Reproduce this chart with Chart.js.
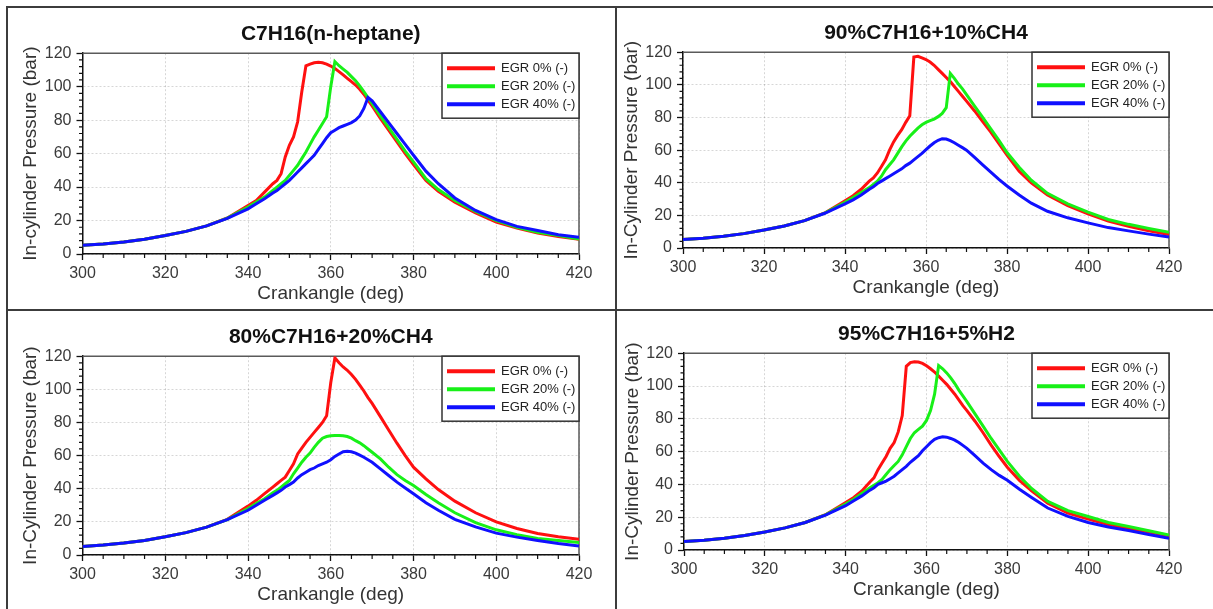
<!DOCTYPE html>
<html>
<head>
<meta charset="utf-8">
<title>In-cylinder pressure vs crank angle</title>
<script src="https://cdn.jsdelivr.net/npm/chart.js@4.4.1/dist/chart.umd.min.js"></script>
<style>
  body { margin: 0; background: #fff; }
  #page { position: relative; width: 1213px; height: 609px; overflow: hidden; background: #fff; }
  .rule { position: absolute; background: #3c3c3c; }
  canvas { position: absolute; }
</style>
</head>
<body>
<div id="page">
  <div class="rule" style="left:6px;top:6px;width:1207px;height:2px"></div>
  <div class="rule" style="left:6px;top:309px;width:1207px;height:2px"></div>
  <div class="rule" style="left:6px;top:6px;width:2px;height:603px"></div>
  <div class="rule" style="left:615px;top:6px;width:2px;height:603px"></div>
  <canvas id="p1" width="607" height="301" style="left:8px;top:8px"></canvas>
  <canvas id="p2" width="596" height="301" style="left:617px;top:8px"></canvas>
  <canvas id="p3" width="607" height="298" style="left:8px;top:311px"></canvas>
  <canvas id="p4" width="596" height="298" style="left:617px;top:311px"></canvas>
</div>
<script>
// crank angle (deg), shared by every curve
const crankAngle = [300, 305, 310, 315, 320, 325, 330, 335,
  340, 342, 344, 346, 347, 348, 349, 350, 351, 352, 353, 354, 355, 356, 357, 358, 359,
  360, 361, 362, 363, 364, 365, 366, 367, 368, 369, 370, 372, 374, 376, 378, 380,
  383, 386, 390, 395, 400, 405, 410, 415, 420];

const seriesLabels = ['EGR 0% (-)', 'EGR 20% (-)', 'EGR 40% (-)'];
const seriesColors = ['#ff1010', '#18f018', '#1010ff'];
const panelTitles = ['C7H16(n-heptane)', '90%C7H16+10%CH4', '80%C7H16+20%CH4', '95%C7H16+5%H2'];
const yTitles = ['In-cylinder Pressure (bar)', 'In-Cylinder Pressure (bar)', 'In-Cylinder Pressure (bar)', 'In-Cylinder Pressure (bar)'];
const xTitle = 'Crankangle (deg)';

// pressure (bar) - C7H16 (n-heptane)
const heptaneEgr0 = [5.2, 6.0, 7.2, 8.8, 11.0, 13.5, 16.8, 21.5,
  29, 32, 37, 42, 44, 48, 58, 65, 70, 79, 97, 112.5, 113.5, 114.3, 114.6, 114.3, 113.5,
  112.3, 110.8, 109, 107, 105, 103, 101, 98.5, 95.5, 92, 88.5, 81, 74, 67, 60, 53.5,
  44, 37.5, 31, 24.5, 19, 15.5, 12.5, 10.5, 8.8];
const heptaneEgr20 = [5.2, 6.0, 7.2, 8.8, 11.0, 13.5, 16.8, 21.4,
  28, 31, 34, 38, 40, 42, 44, 47, 50, 53, 57, 61, 65.5, 70, 74, 78, 82,
  100, 115, 112.5, 110.5, 108.5, 106, 103.5, 100.5, 97, 93.5, 90, 82.5, 75.5, 68.5, 61.5, 55,
  45, 38.5, 32, 25.5, 20, 16, 13, 11, 9];
const heptaneEgr40 = [5.2, 6.0, 7.2, 8.8, 11.0, 13.5, 16.8, 21.3,
  27, 30, 33, 36.5, 38, 40, 42, 44, 46.5, 49, 51.5, 54, 56.5, 59, 62.5, 66, 69.5,
  72.5, 74, 75.5, 76.5, 77.5, 78.5, 80, 82.5, 87, 93.5, 91.5, 85, 78.5, 72, 65.5, 59,
  49.5, 42, 33.5, 26, 20.5, 16.5, 14, 11.5, 10];

// pressure (bar) - 90%C7H16+10%CH4
const ch4Ten0 = [5.2, 6.0, 7.2, 8.8, 11.0, 13.5, 16.8, 21.5,
  29, 32, 36, 41, 43, 46, 50, 54, 60, 65, 69, 72.5, 77, 81, 117, 117.5, 116.5,
  115.5, 114, 112, 109.5, 107, 104.5, 102, 99, 96, 93, 90, 84, 77.5, 71, 64, 57,
  47, 40, 32.5, 26, 21, 16.5, 13.3, 10.5, 8.3];
const ch4Ten20 = [5.2, 6.0, 7.2, 8.8, 11.0, 13.5, 16.8, 21.4,
  28, 31, 34, 37, 39, 41, 44, 48, 51, 54, 58, 62, 65.5, 68.5, 71, 73.5, 75.5,
  77, 78, 79, 80.5, 82.5, 86, 107, 104, 100.5, 97.5, 94, 87, 80, 73, 66, 58.5,
  49.5, 41.5, 33.5, 27, 22, 17.5, 14.5, 12, 9.7];
const ch4Ten40 = [5.2, 6.0, 7.2, 8.8, 11.0, 13.5, 16.8, 21.3,
  27, 29.5, 32.5, 36, 37.5, 39.5, 41, 42.5, 44, 45.5, 47, 48.5, 50.5, 52, 54, 56, 58,
  60.3, 62.5, 64.5, 66, 67, 66.8, 65.8, 64.5, 63, 61.5, 60, 55.5, 51, 46.5, 42, 38,
  32.5, 27.5, 22.5, 18.5, 15.4, 12.5, 10.5, 8.5, 6.8];

// pressure (bar) - 80%C7H16+20%CH4
const ch4Twenty0 = [5.2, 6.0, 7.2, 8.8, 11.0, 13.5, 16.8, 21.5,
  29.5, 33, 37, 41, 43, 45, 47, 51, 55, 61, 64.5, 68, 71, 74, 77, 80, 84,
  104, 119, 116, 113.5, 111.5, 109, 106, 102.5, 99, 95, 91.5, 83.5, 75.5, 67.5, 60, 53,
  46, 39.5, 32.5, 25.5, 20, 16, 13, 11, 9.5];
const ch4Twenty20 = [5.2, 6.0, 7.2, 8.8, 11.0, 13.5, 16.8, 21.4,
  28, 31, 34, 37.5, 39, 41, 43, 45, 49, 52.5, 56, 59, 61.5, 65, 68, 70.5, 71.5,
  72, 72.2, 72.2, 72, 71.5, 70.5, 69, 67.7, 66, 64, 62, 58, 53, 48.5, 45, 42,
  36.5, 31.5, 25.5, 19.5, 15.2, 12.3, 10, 8.7, 7.5];
const ch4Twenty40 = [5.2, 6.0, 7.2, 8.8, 11.0, 13.5, 16.8, 21.3,
  27, 30, 33, 36, 37.5, 39, 41, 42.5, 44, 46.5, 48.5, 50, 51.5, 52.5, 54, 55, 56,
  57.5, 59.5, 61, 62.3, 62.6, 62.3, 61.5, 60.3, 59, 57.5, 56, 52, 48, 44, 40.5, 37,
  31.5, 27, 21.5, 17, 13.2, 10.8, 8.8, 7, 5.5];

// pressure (bar) - 95%C7H16+5%H2
const h2Five0 = [5.2, 6.0, 7.2, 8.8, 11.0, 13.5, 16.8, 21.5,
  29, 32, 36, 41.5, 44, 49, 53, 57, 62, 65.5, 72, 82, 112, 114.3, 114.8, 114.6, 113.8,
  112.3, 110.5, 108.5, 106, 103.5, 101, 98, 95, 91.5, 88, 85, 78.5, 71.5, 64, 57, 50.5,
  42.5, 36, 28.5, 22.5, 18.8, 15.5, 13.3, 11, 8.6];
const h2Five20 = [5.2, 6.0, 7.2, 8.8, 11.0, 13.5, 16.8, 21.4,
  28, 31, 34.5, 38, 39.5, 41, 43, 46, 49, 51.5, 54, 58, 63, 68, 71.5, 73.5, 75.5,
  79, 85, 95, 112.5, 110.5, 108, 105, 101.5, 97.5, 94, 90.5, 83, 75.5, 68, 61, 54,
  45, 37.5, 29.6, 24, 20.4, 16.8, 14.3, 11.7, 9.2];
const h2Five40 = [5.2, 6.0, 7.2, 8.8, 11.0, 13.5, 16.8, 21.3,
  27, 30, 33, 36.5, 38, 40, 41, 42, 43.5, 45, 47, 49, 51, 53.5, 55.5, 57.5, 60.5,
  63, 65.5, 67.5, 68.5, 69, 68.8, 68, 67, 65.5, 63.8, 62, 57.5, 53, 49, 45.5, 42.5,
  37, 32, 25.6, 20.5, 16.8, 14, 11.9, 9.5, 7.2];

const panelSeries = [
  [heptaneEgr0, heptaneEgr20, heptaneEgr40],
  [ch4Ten0, ch4Ten20, ch4Ten40],
  [ch4Twenty0, ch4Twenty20, ch4Twenty40],
  [h2Five0, h2Five20, h2Five40]
];

// room around each plot so the four boxes line up with the original figure
const panelPadding = [
  { left: 8.5, right: 36, top: 14, bottom: 3 },
  { left: 0, right: 44, top: 13, bottom: 9 },
  { left: 8.5, right: 36, top: 14, bottom: 2 },
  { left: 1, right: 44, top: 11, bottom: 7 }
];

const fontFamily = "'Liberation Sans', Arial, sans-serif";

// small ticks between the labelled ones
const minorTicks = {
  id: 'minorTicks',
  afterDraw(chart) {
    const { ctx, scales: { x, y } } = chart;
    ctx.save();
    ctx.strokeStyle = '#111';
    ctx.lineWidth = 1.2;
    ctx.beginPath();
    for (let v = x.min; v <= x.max; v += 5) {
      if (v % 20 === 0) continue;
      const px = x.getPixelForValue(v);
      ctx.moveTo(px, x.top);
      ctx.lineTo(px, x.top + 4);
    }
    for (let v = y.min; v <= y.max; v += 4) {
      if (v % 20 === 0) continue;
      const py = y.getPixelForValue(v);
      ctx.moveTo(y.right, py);
      ctx.lineTo(y.right - 3.5, py);
    }
    ctx.stroke();
    ctx.restore();
  }
};

// grey frame on the top and right of the plot
const plotFrame = {
  id: 'plotFrame',
  beforeDatasetsDraw(chart) {
    const { ctx, chartArea: a } = chart;
    ctx.save();
    ctx.strokeStyle = '#5a5a5a';
    ctx.lineWidth = 1.5;
    ctx.beginPath();
    ctx.moveTo(a.left, a.top);
    ctx.lineTo(a.right, a.top);
    ctx.lineTo(a.right, a.bottom);
    ctx.stroke();
    ctx.restore();
  }
};

// boxed legend in the upper right corner of the plot
const boxLegend = {
  id: 'boxLegend',
  afterDatasetsDraw(chart) {
    const { ctx, chartArea: a } = chart;
    const w = 137, h = 65;
    const left = a.right - w, top = a.top;
    ctx.save();
    ctx.fillStyle = '#fff';
    ctx.fillRect(left, top, w, h);
    ctx.strokeStyle = '#333';
    ctx.lineWidth = 1.5;
    ctx.strokeRect(left, top, w, h);
    ctx.font = '13px ' + fontFamily;
    ctx.textBaseline = 'middle';
    chart.data.datasets.forEach((ds, i) => {
      const rowY = top + 15 + i * 18;
      ctx.strokeStyle = ds.borderColor;
      ctx.lineWidth = 4;
      ctx.beginPath();
      ctx.moveTo(left + 5, rowY);
      ctx.lineTo(left + 53, rowY);
      ctx.stroke();
      ctx.fillStyle = '#222';
      ctx.fillText(ds.label, left + 59, rowY + 0.5);
    });
    ctx.restore();
  }
};

/**
 * Builds one pressure trace panel.
 * @param {number} idx
 */
function makePanel(idx) {
  const datasets = panelSeries[idx].map((values, i) => ({
    label: seriesLabels[i],
    data: values,
    borderColor: seriesColors[i],
    borderWidth: 3,
    pointRadius: 0,
    tension: 0,
    fill: false,
    order: 2 - i
  }));

  new Chart(document.getElementById('p' + (idx + 1)), {
    type: 'line',
    data: { labels: crankAngle, datasets },
    plugins: [plotFrame, minorTicks, boxLegend],
    options: {
      responsive: false,
      animation: false,
      devicePixelRatio: 1,
      layout: { padding: panelPadding[idx] },
      plugins: {
        legend: { display: false },
        tooltip: { enabled: false },
        title: {
          display: true,
          fullSize: false,
          text: panelTitles[idx],
          color: '#111',
          font: { family: fontFamily, size: 21, weight: 'bold', lineHeight: 1.2 },
          padding: { top: 0, bottom: 6 }
        }
      },
      scales: {
        x: {
          type: 'linear',
          min: 300,
          max: 420,
          afterFit: (s) => { s.height = 52; s.paddingLeft = 0; s.paddingRight = 0; },
          ticks: {
            stepSize: 20,
            padding: 4,
            maxRotation: 0,
            color: '#3a3a3a',
            font: { family: fontFamily, size: 16 }
          },
          grid: {
            color: 'rgba(0,0,0,0.16)',
            lineWidth: 1,
            tickLength: 6,
            tickColor: '#111',
            tickWidth: 1.3
          },
          border: { display: true, color: '#111', width: 1.5, dash: [2, 2] },
          title: {
            display: true,
            text: xTitle,
            color: '#333',
            font: { family: fontFamily, size: 19, lineHeight: 1.2 },
            padding: { top: 0, bottom: 1 }
          }
        },
        y: {
          min: 0,
          max: 120,
          afterFit: (s) => { s.width = 66; s.paddingTop = 0; s.paddingBottom = 0; },
          ticks: {
            stepSize: 20,
            padding: 5,
            color: '#3a3a3a',
            font: { family: fontFamily, size: 16 }
          },
          grid: {
            color: 'rgba(0,0,0,0.16)',
            lineWidth: 1,
            tickLength: 6,
            tickColor: '#111',
            tickWidth: 1.3
          },
          border: { display: true, color: '#111', width: 1.5, dash: [2, 2] },
          title: {
            display: true,
            text: yTitles[idx],
            color: '#333',
            font: { family: fontFamily, size: 19, lineHeight: 1.2 },
            padding: { top: 3, bottom: 0 }
          }
        }
      }
    }
  });
}

[0, 1, 2, 3].forEach(makePanel);
</script>
</body>
</html>
